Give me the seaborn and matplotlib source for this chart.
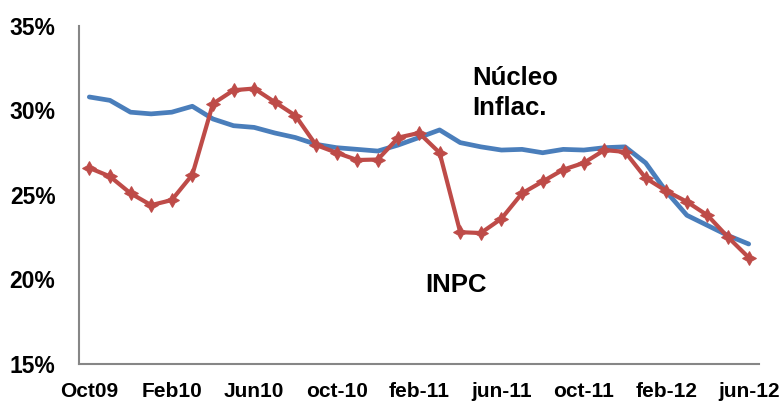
import matplotlib
matplotlib.use("Agg")
import matplotlib.pyplot as plt
import seaborn as sns
import pandas as pd
import numpy as np

# datos mensuales oct-2009 .. jun-2012
meses = ["Oct09", "Nov09", "Dic09", "Ene10", "Feb10", "Mar10", "Abr10", "May10",
         "Jun10", "Jul10", "Ago10", "Sep10", "oct-10", "nov-10", "dic-10", "ene-11",
         "feb-11", "mar-11", "abr-11", "may-11", "jun-11", "jul-11", "ago-11", "sep-11",
         "oct-11", "nov-11", "dic-11", "ene-12", "feb-12", "mar-12", "abr-12", "may-12",
         "jun-12"]

inpc = [26.6, 26.1, 25.1, 24.4, 24.7, 26.2, 30.4, 31.2, 31.3, 30.5, 29.7, 27.96,
        27.5, 27.07, 27.1, 28.4, 28.67, 27.5, 22.8, 22.75, 23.6, 25.1, 25.8, 26.5,
        26.9, 27.66, 27.55, 26.0, 25.24, 24.6, 23.8, 22.5, 21.3]

nucleo = [30.8, 30.6, 29.9, 29.8, 29.9, 30.25, 29.5, 29.1, 29.0, 28.67, 28.4, 28.0,
          27.8, 27.7, 27.6, 27.96, 28.4, 28.85, 28.1, 27.85, 27.66, 27.7, 27.5, 27.7,
          27.66, 27.8, 27.85, 26.9, 25.2, 23.8, 23.2, 22.6, 22.1]

etiquetas_x = ["Oct09", "Feb10", "Jun10", "oct-10", "feb-11", "jun-11", "oct-11", "feb-12", "jun-12"]
etiquetas_y = ["15%", "20%", "25%", "30%", "35%"]

df = pd.DataFrame({"idx": np.arange(len(meses)), "mes": meses, "INPC": inpc, "Nucleo": nucleo})

sns.set_style("white")
plt.rcParams["font.family"] = ["Liberation Sans", "DejaVu Sans"]
plt.rcParams["text.color"] = "black"
plt.rcParams["xtick.labelcolor"] = "black"
plt.rcParams["ytick.labelcolor"] = "black"

fig = plt.figure(figsize=(7.82, 4.01), dpi=100)
ax = fig.add_axes([79 / 782, 37 / 401, 680 / 782, 338 / 401])

azul = "#4a7ebb"
rojo = "#be4b48"

sns.lineplot(data=df, x="idx", y="Nucleo", ax=ax, color=azul, linewidth=3.4)
sns.lineplot(data=df, x="idx", y="INPC", ax=ax, color=rojo, linewidth=3.0,
             marker=(4, 1, 0), markersize=10, markeredgecolor=rojo, markerfacecolor=rojo)

ax.set_xlim(-0.5, len(meses) - 0.5)
ax.set_ylim(15, 35)

# marcas entre categorias, etiquetas centradas
ax.set_xticks(np.arange(-0.5, len(meses) - 1, 4))
ax.set_xticklabels([])
ax.set_xticks(np.arange(0, len(meses), 4), minor=True)
ax.set_xticklabels(etiquetas_x, minor=True, fontsize=15, fontweight="bold")
ax.tick_params(axis="x", which="major", length=7, width=1.5, color="#868686", direction="out")
ax.tick_params(axis="x", which="minor", length=0, pad=13)

ax.set_yticks([15, 20, 25, 30, 35])
ax.set_yticklabels(etiquetas_y, fontsize=16.5, fontweight="bold")
ax.tick_params(axis="y", length=7, width=1.5, color="#868686", direction="out", pad=10)

ax.set_xlabel("")
ax.set_ylabel("")

for s in ["top", "right"]:
    ax.spines[s].set_visible(False)
for s in ["left", "bottom"]:
    ax.spines[s].set_color("#868686")
    ax.spines[s].set_linewidth(1.5)

ax.text(18.6, 32.65, "Núcleo\nInflac.", fontsize=18.5, fontweight="bold", va="top", ha="left",
        linespacing=1.35, color="black")
ax.text(16.3, 19.65, "INPC", fontsize=18.5, fontweight="bold", va="center", ha="left",
        color="black")

plt.savefig("out.png", dpi=100)
plt.close()
